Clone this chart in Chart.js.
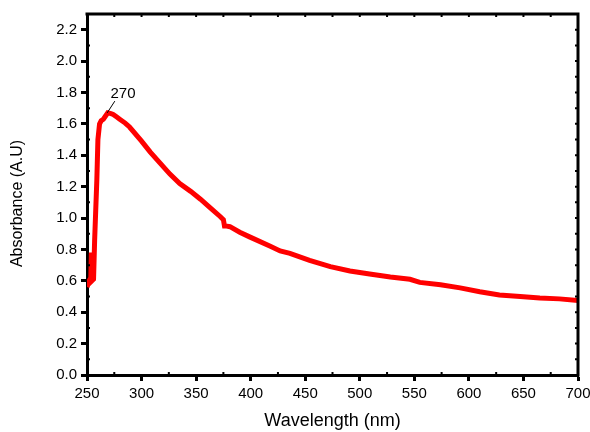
<!DOCTYPE html>
<html>
<head>
<meta charset="utf-8">
<script src="https://cdn.jsdelivr.net/npm/chart.js@4.4.0/dist/chart.umd.min.js"></script>
<style>
  html, body { margin: 0; padding: 0; background: #fff; }
  #wrap { width: 590px; height: 432px; }
</style>
</head>
<body>
<div id="wrap"><canvas id="uvChart" width="590" height="432"></canvas></div>
<script>
"use strict";

// UV-vis absorbance spectrum
const wavelength = [250, 252, 253.5, 254, 254.5, 256, 257, 258, 259, 260, 261.5, 263, 265, 267, 269, 272, 274, 277, 280, 285, 289,
    300, 308, 317, 326, 335, 345, 354, 363, 372, 375, 376, 377, 381, 390, 399, 418, 427, 436, 454, 473, 491, 509, 528,
    546, 555, 574, 592, 610, 628, 647, 665, 683, 700]
const absorbance = [0.56, 0.60, 0.62, 0.78, 0.60, 0.61, 0.86, 1.05, 1.24, 1.50, 1.60, 1.62, 1.63, 1.65, 1.67, 1.665, 1.66, 1.645, 1.63, 1.605, 1.58,
    1.49, 1.42, 1.35, 1.28, 1.22, 1.17, 1.12, 1.065, 1.01, 0.99, 0.95, 0.95, 0.945, 0.91, 0.88, 0.82, 0.79, 0.775, 0.73, 0.69, 0.663, 0.644, 0.625,
    0.61, 0.59, 0.575, 0.555, 0.53, 0.51, 0.50, 0.49, 0.485, 0.475]

const xTicks = [250, 300, 350, 400, 450, 500, 550, 600, 650, 700]
const yTicks = [0.0, 0.2, 0.4, 0.6, 0.8, 1.0, 1.2, 1.4, 1.6, 1.8, 2.0, 2.2]
const xMinorTicks = [275, 325, 375, 425, 475, 525, 575, 625, 675]
const yMinorTicks = [0.1, 0.3, 0.5, 0.7, 0.9, 1.1, 1.3, 1.5, 1.7, 1.9, 2.1]

// peak label and its leader line (data coords)
const peakText = '270'
const peakTextAt = [283, 1.79]
const peakLeader = [[268.5, 1.67], [275.5, 1.745]]

const yTitle = 'Absorbance (A.U)'

const FONT = 'Liberation Sans, Arial, Helvetica, sans-serif'

const frameTicks = {
    id: 'frameTicks',
    afterDraw(chart) {
        const { ctx, chartArea: { left, right, top, bottom }, scales: { x, y } } = chart
        ctx.save()
        ctx.strokeStyle = '#000'
        ctx.lineCap = 'square'

        // top and right frame
        ctx.lineWidth = 3
        ctx.beginPath()
        ctx.moveTo(left, top)
        ctx.lineTo(right, top)
        ctx.lineTo(right, bottom)
        ctx.stroke()

        ctx.lineWidth = 2
        ctx.lineCap = 'butt'
        ctx.beginPath()
        // minor ticks inside on left and bottom
        yMinorTicks.forEach(v => {
            const py = y.getPixelForValue(v)
            ctx.moveTo(left, py); ctx.lineTo(left + 3, py)
        })
        xMinorTicks.forEach(v => {
            const px = x.getPixelForValue(v)
            ctx.moveTo(px, bottom); ctx.lineTo(px, bottom - 3)
        })
        // top and right: all ticks point inward
        xTicks.concat(xMinorTicks).forEach(v => {
            const px = x.getPixelForValue(v)
            ctx.moveTo(px, top); ctx.lineTo(px, top + 3)
        })
        yTicks.concat(yMinorTicks).forEach(v => {
            const py = y.getPixelForValue(v)
            ctx.moveTo(right, py); ctx.lineTo(right - 3, py)
        })
        ctx.stroke()

        // peak annotation
        ctx.lineWidth = 1
        ctx.beginPath()
        ctx.moveTo(x.getPixelForValue(peakLeader[0][0]), y.getPixelForValue(peakLeader[0][1]))
        ctx.lineTo(x.getPixelForValue(peakLeader[1][0]), y.getPixelForValue(peakLeader[1][1]))
        ctx.stroke()
        ctx.fillStyle = '#000'
        ctx.font = '15px ' + FONT
        ctx.textAlign = 'center'
        ctx.textBaseline = 'middle'
        ctx.fillText(peakText, x.getPixelForValue(peakTextAt[0]), y.getPixelForValue(peakTextAt[1]))

        // y axis title, sits a little below the middle of the axis
        ctx.font = '16px ' + FONT
        ctx.translate(18, (top + bottom) / 2 + 9)
        ctx.rotate(-Math.PI / 2)
        ctx.fillText(yTitle, 0, 0)
        ctx.restore()
    }
}

const tickGrid = {
    display: true,
    drawOnChartArea: false,
    drawTicks: true,
    tickLength: 6,
    tickWidth: 3,
    tickColor: '#000',
    color: '#000'
}

new Chart('uvChart', {
    type: 'line',
    data: {
        datasets: [{
            data: wavelength.map((w, i) => ({ x: w, y: absorbance[i] })),
            borderColor: '#ff0000',
            borderWidth: 5,
            pointRadius: 0,
            tension: 0,
            fill: false
        }]
    },
    options: {
        responsive: false,
        animation: false,
        layout: { padding: { left: 0, right: 12, top: 14, bottom: 0 } },
        plugins: { legend: { display: false }, tooltip: { enabled: false } },
        scales: {
            x: {
                type: 'linear',
                min: 250,
                max: 700,
                afterBuildTicks: scale => { scale.ticks = xTicks.map(v => ({ value: v })) },
                afterFit: scale => {
                    scale.height = 57
                    scale.paddingLeft = 0
                    scale.paddingRight = 0
                },
                grid: tickGrid,
                border: { display: true, color: '#000', width: 3 },
                ticks: { color: '#000', padding: 4, maxRotation: 0, font: { family: FONT, size: 15 } },
                title: { display: true, text: 'Wavelength (nm)', color: '#000', padding: 0, font: { family: FONT, size: 18 } }
            },
            y: {
                type: 'linear',
                min: 0,
                max: 2.3,
                afterBuildTicks: scale => { scale.ticks = yTicks.map(v => ({ value: v })) },
                afterFit: scale => {
                    scale.width = 87
                    scale.paddingTop = 0
                    scale.paddingBottom = 0
                },
                grid: tickGrid,
                border: { display: true, color: '#000', width: 3 },
                ticks: { color: '#000', padding: 4, callback: v => v.toFixed(1), font: { family: FONT, size: 15 } },
                title: { display: false }
            }
        }
    },
    plugins: [frameTicks]
})
</script>
</body>
</html>
